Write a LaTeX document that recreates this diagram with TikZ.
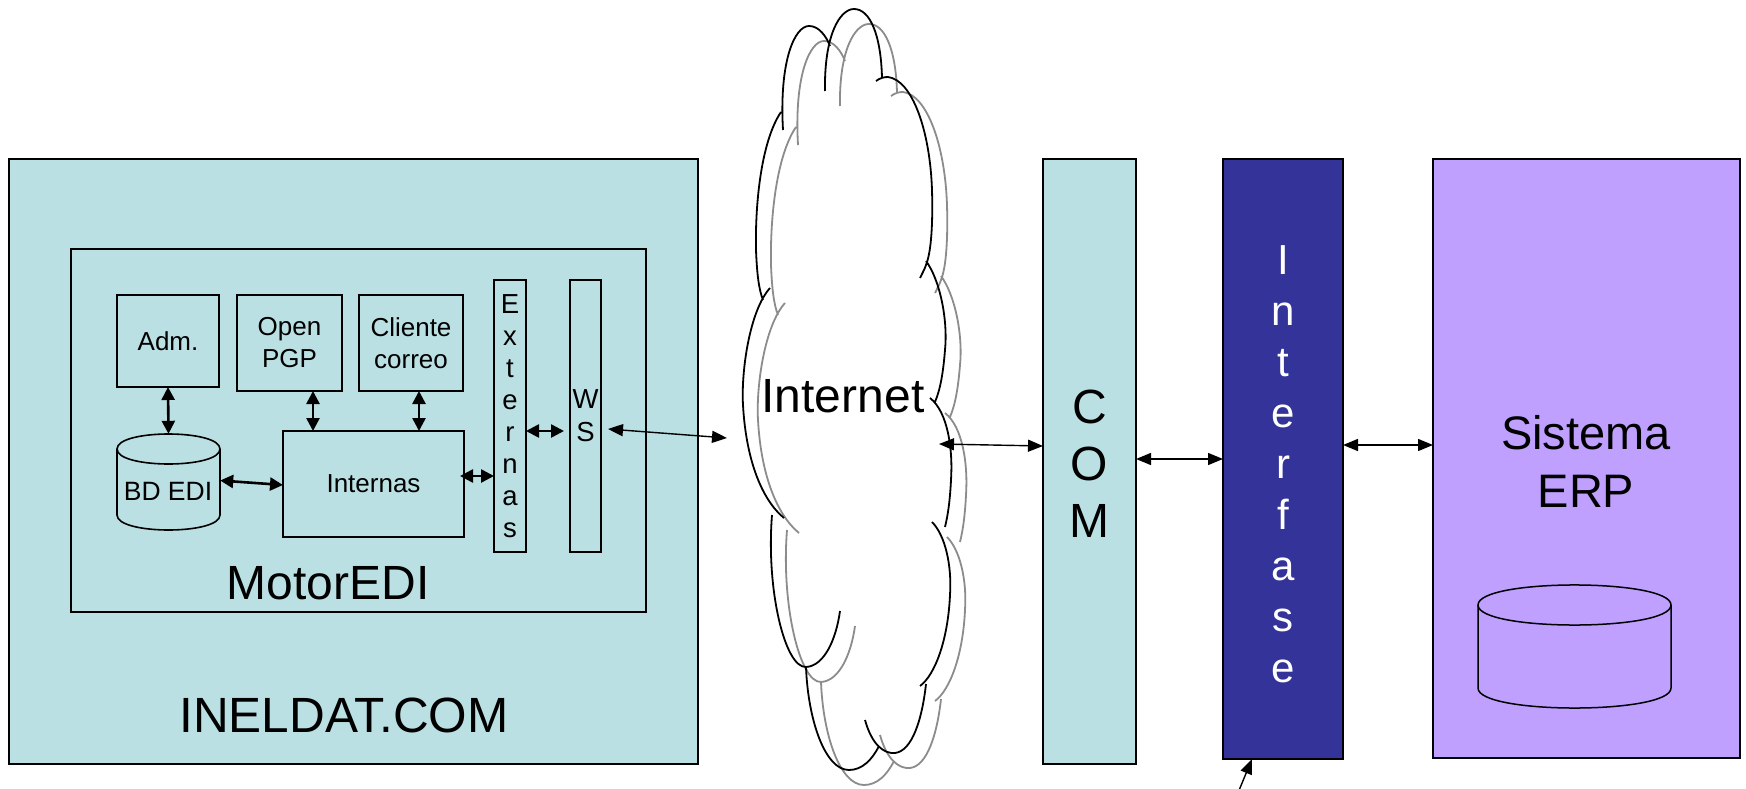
\documentclass[tikz,border=0pt]{standalone}
\usepackage{fontspec}
\setmainfont{Liberation Sans}
\usetikzlibrary{arrows.meta}
\definecolor{lblue}{RGB}{187,224,227}
\definecolor{dblue}{RGB}{51,51,153}
\definecolor{lav}{RGB}{192,160,255}
\newcommand{\fsz}[2]{\fontsize{#1}{#2}\selectfont}
\newcommand{\cloudlobes}{
 (783,130) .. controls (779,60) and (795,26) .. (809,26) .. controls (819,26) and (826,36) .. (830,46)
 (825,91) .. controls (824,35) and (840,9) .. (854,9) .. controls (870,9) and (881,35) .. (882,78)
 (876,81) .. controls (880,78) and (884,77) .. (888,77) .. controls (912,80) and (930,130) .. (932,190) .. controls (933,225) and (931,250) .. (927,262) .. controls (925,268) .. (920,278)
 (926,261) .. controls (940,280) and (948,320) .. (945,350) .. controls (943,375) and (940,390) .. (935,402)
 (930,398) .. controls (948,412) and (953,450) .. (951,480) .. controls (950,500) and (948,515) .. (945,527)
 (932,522) .. controls (945,535) and (952,565) .. (950,595) .. controls (948,640) and (935,675) .. (920,686)
 (865,720) .. controls (872,745) and (884,754) .. (895,753) .. controls (912,751) and (922,720) .. (926,684)
 (806,667) .. controls (808,720) and (825,770) .. (849,770) .. controls (862,770) and (872,760) .. (879,746)
 (772,515) .. controls (766,590) and (785,668) .. (806,667) .. controls (824,666) and (836,640) .. (840,611)
 (770,288) .. controls (750,310) and (741,370) .. (743,405) .. controls (746,460) and (762,500) .. (784,518)
 (781,112) .. controls (762,140) and (755,200) .. (756,250) .. controls (757,275) and (759,290) .. (763,300)
}
\begin{document}
\begin{tikzpicture}[x=1pt,y=-1pt,
  box/.style={draw=black, line width=1.6pt, inner sep=0pt, outer sep=0pt},
  lbl/.style={inner sep=0pt, align=center},
  inarr/.style={line width=2.6pt, {Triangle[length=13pt,width=13pt]}-{Triangle[length=13pt,width=13pt]}},
  bigarr/.style={line width=1.4pt, {Triangle[length=15pt,width=12pt]}-{Triangle[length=15pt,width=12pt]}},
  onearr/.style={line width=1.4pt, -{Triangle[length=15pt,width=12pt]}},
  lobe/.style={line width=1.8pt}
]
\useasboundingbox (0,0) rectangle (1746,789);
\fill[white] (0,0) rectangle (1746,789);

% INELDAT.COM
\node[box, fill=lblue, minimum width=689pt, minimum height=605pt] (ineldat) at (353.5,461.5) {};
\node[lbl, font=\fsz{49.5}{56}] (ineldattxt) at (344,715) {INELDAT.COM};
\node[box, fill=lblue, minimum width=575pt, minimum height=363pt] (motor) at (358.5,430.5) {};
\node[lbl, font=\fsz{48}{56}] (motortxt) at (328,583) {MotorEDI};

\node[box, minimum width=102pt, minimum height=92pt, font=\fsz{26}{32}] (adm) at (168,341) {Adm.};
\node[box, minimum width=105pt, minimum height=96pt, align=center, font=\fsz{26}{32}] (pgp) at (289.5,343) {Open\\PGP};
\node[box, minimum width=104pt, minimum height=96pt, align=center, font=\fsz{26}{32}] (cli) at (411,343) {Cliente\\correo};
\node[box, minimum width=181pt, minimum height=106pt, font=\fsz{26}{32}] (internas) at (373.5,484) {Internas};
\node[box, minimum width=32pt, minimum height=272pt, align=center, font=\fsz{27.5}{32}] (ext) at (510,416) {E\\x\\t\\e\\r\\n\\a\\s};
\node[box, minimum width=31pt, minimum height=272pt, align=center, font=\fsz{27.5}{33}] (ws) at (585.5,416) {W\\S};

% BD EDI cylinder
\filldraw[fill=lblue, draw=black, line width=1.6pt]
  (117,449) -- (117,515) .. controls (117,535) and (220,535) .. (220,515) -- (220,449)
  .. controls (220,429) and (117,429) .. (117,449) -- cycle;
\draw[line width=1.6pt] (117,449) .. controls (117,469) and (220,469) .. (220,449);
\node[lbl, minimum width=103pt, minimum height=96pt] (bd) at (168.5,482) {};
\node[lbl, font=\fsz{26.5}{32}] (bdtxt) at (168,491) {BD EDI};

% Cloud
\begin{scope}[shift={(15,15)}]
\draw[black!45, lobe] \cloudlobes;
\end{scope}
\draw[black, lobe] \cloudlobes;
\node[lbl, font=\fsz{48}{56}] (internet) at (843,396) {Internet};
\coordinate (cloudw) at (727,438);
\coordinate (cloude) at (939,444);

% COM
\node[box, fill=lblue, minimum width=93pt, minimum height=605pt] (com) at (1089.5,461.5) {};
\node[lbl, font=\fsz{48}{57}] (comtxt) at (1089.5,464) {C\\O\\M};

% Interfase
\node[box, fill=dblue, minimum width=120pt, minimum height=600pt] (interfase) at (1283,459) {};
\node[lbl, text=white, font=\fsz{42}{51}] (interfasetxt) at (1283,464) {I\\n\\t\\e\\r\\f\\a\\s\\e};

% Sistema ERP
\node[box, fill=lav, minimum width=307pt, minimum height=599pt] (erp) at (1586.5,458.5) {};
\node[lbl, font=\fsz{47}{58}] (erptxt) at (1586,461) {Sistema\\ERP};
\filldraw[fill=lav, draw=black, line width=1.5pt]
  (1478,605) -- (1478,688) .. controls (1478,714.7) and (1671,714.7) .. (1671,688) -- (1671,605)
  .. controls (1671,578.3) and (1478,578.3) .. (1478,605) -- cycle;
\draw[line width=1.5pt] (1478,605) .. controls (1478,631.7) and (1671,631.7) .. (1671,605);

% Arrows
\draw[inarr] (adm.south) -- (bd.north);
\draw[inarr] ([xshift=23.5pt]pgp.south) -- ([xshift=23.5pt]pgp.south |- internas.north);
\draw[inarr] ([xshift=8pt]cli.south) -- ([xshift=8pt]cli.south |- internas.north);
\draw[inarr] ([yshift=1.5pt]bd.east) -- ([yshift=-1pt]internas.west);
\draw[inarr] ([xshift=-4pt,yshift=8pt]internas.east) -- ([yshift=-60pt]ext.west);
\draw[inarr] ([yshift=-15pt]ext.east) -- ([xshift=-6pt,yshift=-15pt]ws.west);
\draw[bigarr] ([xshift=7pt,yshift=-13pt]ws.east) -- (cloudw);
\draw[bigarr] (cloude) -- ([yshift=15.5pt]com.west);
\draw[bigarr] (com.east |- interfase.west) -- (interfase.west);
\draw[bigarr] ([yshift=14pt]interfase.east) -- ([yshift=13.5pt]erp.west);
\coordinate (btm) at (1235,800);
\draw[onearr] (btm) -- ([xshift=-31pt]interfase.south);
\end{tikzpicture}
\end{document}
